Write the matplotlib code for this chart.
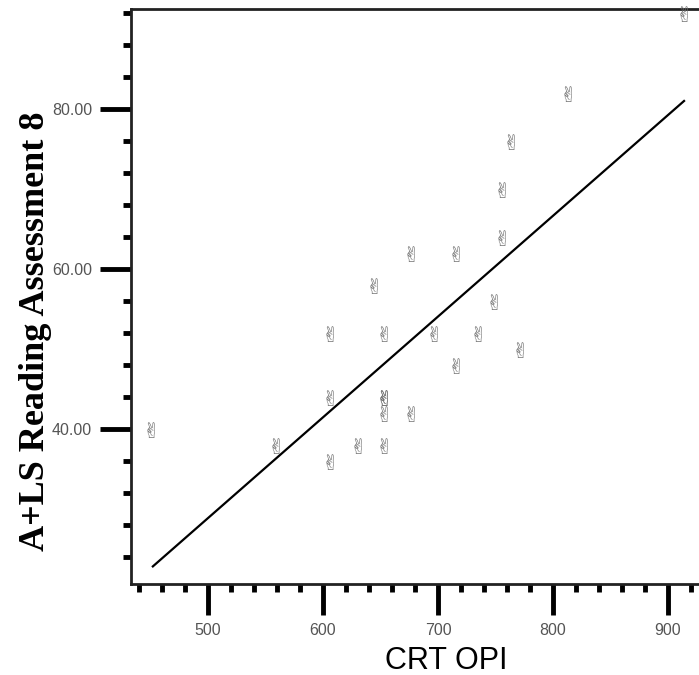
import matplotlib
matplotlib.use("Agg")
import matplotlib.pyplot as plt
from matplotlib import font_manager
from matplotlib.ft2font import FT2Font
from matplotlib.transforms import offset_copy
from matplotlib.ticker import MultipleLocator, FormatStrFormatter

# scatter data
crt_opi = [451, 559, 606, 606, 606, 631, 645, 653, 653, 653, 653, 653,
           677, 677, 697, 716, 716, 735, 749, 756, 756, 764, 772, 813, 914]
reading_8 = [40, 38, 52, 44, 36, 38, 58, 52, 44, 44, 42, 38,
             42, 62, 52, 62, 48, 52, 56, 64, 70, 76, 50, 82, 92]

# fit line as shown in the reference (end points)
fit_x = [452, 914]
fit_y = [22.8, 81.0]

x_ticks = [500, 600, 700, 800, 900]
y_ticks = [40, 60, 80]

HAND = "\u270C"


def find_glyph_font(code):
    # look for an installed font that actually has the glyph
    names = []
    for f in font_manager.fontManager.ttflist:
        try:
            if code in FT2Font(f.fname).get_charmap():
                names.append(f.name)
        except Exception:
            pass
    return names


hand_fonts = find_glyph_font(ord(HAND))

fig = plt.figure(figsize=(6.99, 6.75), dpi=100)
ax = fig.add_axes([131 / 699, 91 / 675, 568 / 699, 575 / 675])

if hand_fonts:
    # glyph sits a little high on its anchor, nudge it down
    glyph_tr = offset_copy(ax.transData, fig=fig, x=0, y=-2, units="points")
    for x, y in zip(crt_opi, reading_8):
        ax.text(x, y, HAND, ha="center", va="center", fontsize=15,
                color="#6e6e6e", family=hand_fonts[0], transform=glyph_tr)
else:
    ax.scatter(crt_opi, reading_8, marker="v", s=30, facecolor="#bbbbbb",
               edgecolor="#666666", linewidth=0.8)

ax.plot(fit_x, fit_y, color="black", lw=1.6)

ax.set_xlim(433, 927)
ax.set_ylim(20.6, 92.5)

ax.set_xticks(x_ticks)
ax.set_yticks(y_ticks)
ax.xaxis.set_minor_locator(MultipleLocator(20))
ax.yaxis.set_minor_locator(MultipleLocator(4))
ax.yaxis.set_major_formatter(FormatStrFormatter("%.2f"))

ax.tick_params(which="major", direction="out", length=22, width=3.5,
               labelsize=11.5, labelcolor="#555555", pad=6)
ax.tick_params(which="minor", direction="out", length=6, width=3.5)
ax.tick_params(top=False, right=False)
for lab in ax.get_xticklabels() + ax.get_yticklabels():
    lab.set_family("Liberation Sans")

ax.spines["right"].set_visible(False)
for side in ["left", "top", "bottom"]:
    ax.spines[side].set_linewidth(2)
    ax.spines[side].set_color("#222222")

ax.set_xlabel("CRT OPI", fontsize=22, family="Liberation Sans")
ax.xaxis.set_label_coords(0.555, -0.107)
ax.set_ylabel("A+LS Reading Assessment 8", fontsize=26, fontweight="bold",
              family="Liberation Serif")
ax.yaxis.set_label_coords(-0.139, 0.44)

fig.savefig("out.png", dpi=100)
